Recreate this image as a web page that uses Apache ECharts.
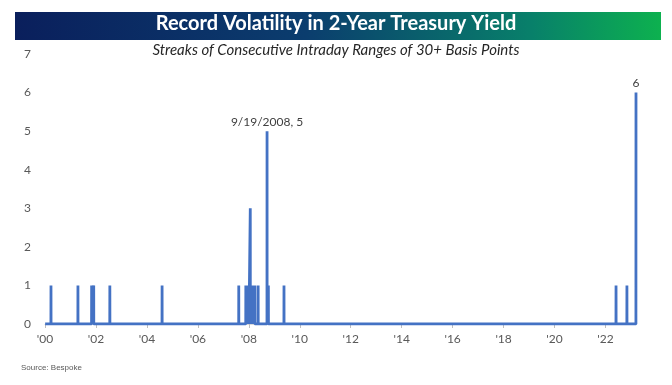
<!DOCTYPE html>
<html>
<head>
<meta charset="utf-8">
<script src="https://cdn.jsdelivr.net/npm/echarts@6/dist/echarts.min.js"></script>
<style>
html,body{margin:0;padding:0;background:#fff;}
#c{width:672px;height:385px;}
</style>
</head>
<body>
<div id="c"></div>
<script>
// ---- data ----
var titleText = 'Record Volatility in 2-Year Treasury Yield';
var subtitleText = 'Streaks of Consecutive Intraday Ranges of 30+ Basis Points';
var sourceText = 'Source: Bespoke';
var startDate = '2000-01-03';
var eventDates = [
  '2000-03-27','2001-04-18','2001-10-31','2001-11-30','2002-07-19','2004-08-06',
  '2007-08-10','2007-11-19','2007-12-03','2007-12-17','2008-01-02','2008-01-22',
  '2008-02-05','2008-02-19','2008-03-04','2008-03-17','2008-03-28','2008-05-14',
  '2008-09-19','2008-10-08','2009-05-20','2022-06-01','2022-11-04','2023-03-14'
];
var eventValues = [
  1,1,1,1,1,1,
  1,1,1,1,1,3,
  1,1,1,1,1,1,
  5,1,1,1,1,6
];
var eventLabels = [
  '','','','','','',
  '','','','','','',
  '','','','','','',
  '9/19/2008, 5','','','','','6'
];
var xTickYears = [2000,2002,2004,2006,2008,2010,2012,2014,2016,2018,2020,2022];
var yTicks = [0,1,2,3,4,5,6,7];

// ---- helpers ----
function toDecYear(s){
  var p = s.split('-').map(Number);
  var y = p[0];
  var d0 = Date.UTC(y,0,1), d1 = Date.UTC(y+1,0,1), d = Date.UTC(y,p[1]-1,p[2]);
  return y + (d - d0)/(d1 - d0);
}
var ONE_DAY = 1/365;
var seriesData = [[toDecYear(startDate), 0]];
for (var i = 0; i < eventDates.length; i++){
  var x = toDecYear(eventDates[i]);
  seriesData.push([x - ONE_DAY, 0]);
  var item = {value:[x, eventValues[i]]};
  if (eventLabels[i]) {
    item.label = {show:true, position:'top', formatter: eventLabels[i], distance:3};
  }
  seriesData.push(item);
  if (i < eventDates.length - 1) seriesData.push([x + ONE_DAY, 0]);
}
var xMax = toDecYear(eventDates[eventDates.length-1]);

var chart = echarts.init(document.getElementById('c'));
chart.setOption({
  animation:false,
  backgroundColor:'#ffffff',
  graphic:[
    {type:'rect', left:15, top:12, shape:{width:646, height:28},
     style:{fill:new echarts.graphic.LinearGradient(0,0,1,0,[
       {offset:0,color:'#0a1f5c'},{offset:0.45,color:'#0b3d6e'},{offset:0.8,color:'#08806a'},{offset:1,color:'#0db14f'}])}},
    {type:'text', left:'center', top:14, style:{text:titleText, fill:'#ffffff',
      font:'bold 20px Lato, "Open Sans", sans-serif'}},
    {type:'text', left:'center', top:43, style:{text:subtitleText, fill:'#262626',
      font:'italic 15px Lato, "Open Sans", sans-serif'}},
    {type:'text', left:21, top:364, style:{text:sourceText, fill:'#595959',
      font:'8px "Liberation Sans", Arial, sans-serif'}}
  ],
  grid:{left:45, right:36, top:54, bottom:61, containLabel:false},
  xAxis:{
    type:'value', min:2000, max:xMax, interval:2,
    axisLine:{show:true, lineStyle:{color:'#d9d9d9', width:1}},
    axisTick:{show:true, length:4, lineStyle:{color:'#bfbfbf'},
      customValues: xTickYears},
    axisLabel:{color:'#595959', fontSize:12, fontFamily:'Lato, "Open Sans", sans-serif', margin:9,
      customValues: xTickYears,
      formatter:function(v){ return "'" + String(v % 100).padStart(2,'0'); }},
    splitLine:{show:false}
  },
  yAxis:{
    type:'value', min:0, max:7, interval:1,
    axisLine:{show:false}, axisTick:{show:false},
    axisLabel:{color:'#595959', fontSize:12, fontFamily:'Lato, "Open Sans", sans-serif', margin:14,
      customValues: yTicks},
    splitLine:{show:false}
  },
  series:[{
    type:'line', data:seriesData, showSymbol:true, showAllSymbol:true,
    symbol:'circle', symbolSize:0,
    lineStyle:{color:'#4472c4', width:2.8},
    itemStyle:{color:'#4472c4'},
    label:{show:false, color:'#404040', fontSize:12, fontFamily:'Lato, "Open Sans", sans-serif'},
    z:3
  }]
});
</script>
</body>
</html>
